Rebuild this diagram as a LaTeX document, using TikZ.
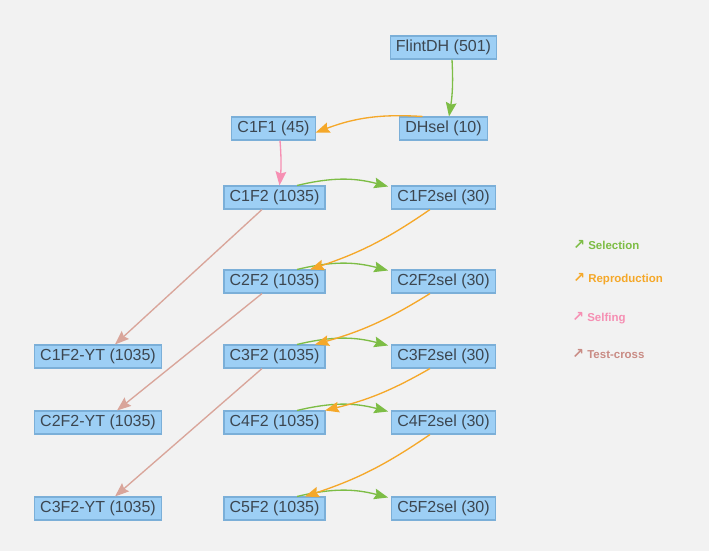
\documentclass[tikz,border=0pt]{standalone}
\usepackage{fontspec}
\setmainfont{Liberation Sans}
\newfontfamily\symfont{DejaVu Sans}
\usetikzlibrary{arrows.meta}
\definecolor{bgc}{HTML}{F2F2F2}
\definecolor{nodefill}{HTML}{9DCFF5}
\definecolor{nodeline}{HTML}{7BAFD8}
\definecolor{txtc}{HTML}{3C4650}
\definecolor{selc}{HTML}{7DBD45}
\definecolor{repc}{HTML}{F5A829}
\definecolor{slfc}{HTML}{F68FB3}
\definecolor{tcc}{HTML}{D9A59A}
\definecolor{tctxt}{HTML}{C98B84}
\begin{document}
\begin{tikzpicture}[x=0.75pt,y=-0.75pt,
  box/.style={draw=nodeline,fill=nodefill,line width=0.8pt,text=txtc,
    font=\fontsize{12}{14}\selectfont,minimum height=17.25pt,inner ysep=0pt,inner xsep=4.2pt},
  tip/.style={-{Stealth[length=10.5pt,width=8pt,inset=1.5pt]},line width=1pt},
  selarr/.style={tip,draw=selc},
  reparr/.style={tip,draw=repc},
  slfarr/.style={tip,draw=slfc},
  tcarr/.style={tip,draw=tcc},
  legend/.style={anchor=west,inner sep=0pt,font=\fontsize{8.6}{10}\selectfont\bfseries}]
\fill[bgc] (0,0) rectangle (709,551);
\useasboundingbox (0,0) rectangle (709,551);
% nodes
\node[box] (flint) at (443.5,47.5) {FlintDH (501)};
\node[box] (dhsel) at (443.5,128.5) {DHsel (10)};
\node[box] (c1f1) at (273.5,128.5) {C1F1 (45)};
\node[box] (c1f2) at (274.5,197.5) {C1F2 (1035)};
\node[box] (c1f2s) at (443.5,197.5) {C1F2sel (30)};
\node[box] (c2f2) at (274.5,281.5) {C2F2 (1035)};
\node[box] (c2f2s) at (443.5,281.5) {C2F2sel (30)};
\node[box] (c3f2) at (274.5,356.5) {C3F2 (1035)};
\node[box] (c3f2s) at (443.5,356.5) {C3F2sel (30)};
\node[box] (c4f2) at (274.5,422.5) {C4F2 (1035)};
\node[box] (c4f2s) at (443.5,422.5) {C4F2sel (30)};
\node[box] (c5f2) at (274.5,508.5) {C5F2 (1035)};
\node[box] (c5f2s) at (443.5,508.5) {C5F2sel (30)};
\node[box] (yt1) at (98,356.5) {C1F2-YT (1035)};
\node[box] (yt2) at (98,422.5) {C2F2-YT (1035)};
\node[box] (yt3) at (98,508.5) {C3F2-YT (1035)};
% selection / reproduction chain
\draw[selarr] ([xshift=0.75*8.5]flint.south) to[bend left=6] ([xshift=0.75*5.5]dhsel.north);
\draw[reparr] ([xshift=-0.75*21]dhsel.north) to[bend right=12] ([yshift=-0.75*4]c1f1.east);
\draw[slfarr] ([xshift=0.75*6.5]c1f1.south) to[bend left=5] ([xshift=0.75*5]c1f2.north);
\foreach \a/\b in {c1f2/c1f2s,c2f2/c2f2s,c3f2/c3f2s,c4f2/c4f2s,c5f2/c5f2s}{
  \draw[selarr] ([xshift=0.75*22.5]\a.north) to[bend left=14] ([xshift=-0.75*3,yshift=-0.75*1]\b.north west);
}
\draw[reparr] ([xshift=-0.75*13.5]c1f2s.south) to[bend left=8] ([xshift=0.75*35.5]c2f2.north);
\draw[reparr] ([xshift=-0.75*13.5]c2f2s.south) to[bend left=8] ([xshift=0.75*40.5]c3f2.north);
\draw[reparr] ([xshift=-0.75*13.5]c3f2s.south) to[bend left=8] ([xshift=0.75*50.5]c4f2.north);
\draw[reparr] ([xshift=-0.75*13.5]c4f2s.south) to[bend left=8] ([xshift=0.75*30.5]c5f2.north);
% test-cross
\draw[tcarr] ([xshift=-0.75*12.5]c1f2.south) -- ([xshift=0.75*17]yt1.north);
\draw[tcarr] ([xshift=-0.75*12.5]c2f2.south) -- ([xshift=0.75*19]yt2.north);
\draw[tcarr] ([xshift=-0.75*12.5]c3f2.south) -- ([xshift=0.75*17]yt3.north);
% legend
\node[legend,text=selc] (lsel) at (573,245) {{\symfont\fontsize{10.5}{10}\selectfont ↗}\kern2.5pt Selection};
\node[legend,text=repc] (lrep) at (573,279.5) {{\symfont\fontsize{10.5}{10}\selectfont ↗}\kern2.5pt Reproduction};
\node[legend,text=slfc] (lslf) at (572,318.5) {{\symfont\fontsize{10.5}{10}\selectfont ↗}\kern2.5pt Selfing};
\node[legend,text=tctxt] (ltc) at (572,354) {{\symfont\fontsize{10.5}{10}\selectfont ↗}\kern2.5pt Test-cross};
\end{tikzpicture}
\end{document}
